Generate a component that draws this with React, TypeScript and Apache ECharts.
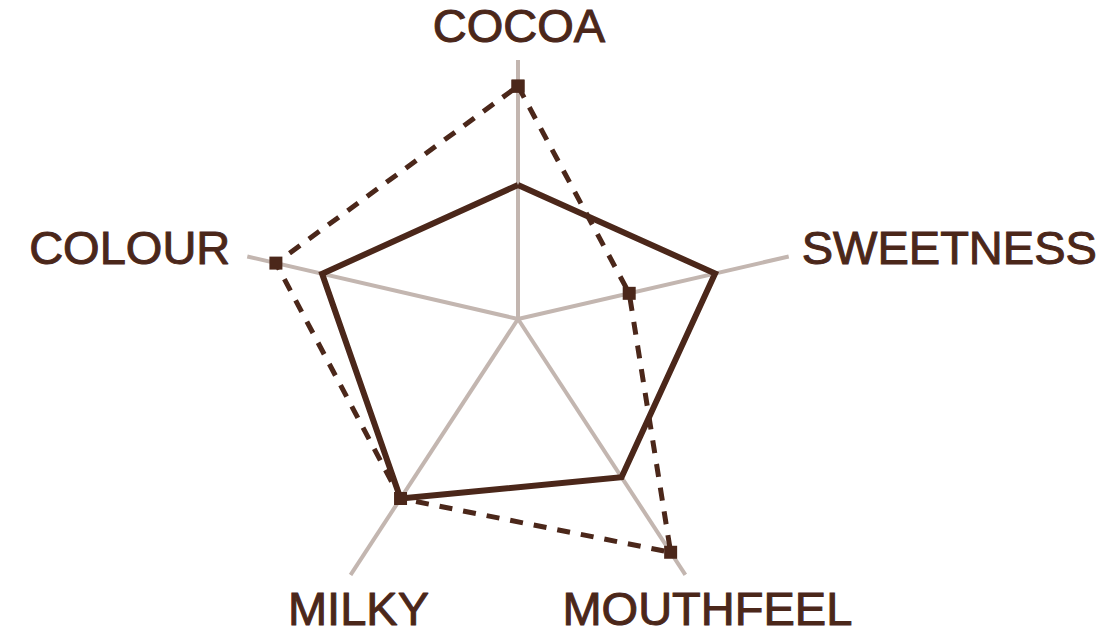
import React, { useEffect, useRef } from "react";
import * as echarts from "echarts";

// Spokes of the chart, clockwise from the top
const categories = ["COCOA", "SWEETNESS", "MOUTHFEEL", "MILKY", "COLOUR"];
// Direction of each spoke (degrees, counter-clockwise from east)
const spokeAngles = [90, 13, 303.2, 236.8, 167];
// Length of each spoke, in the common value scale (0–10)
const spokeLengths = [8.46, 9.08, 9.99, 10, 9.08];
// Solid profile
const solidValues = [4.38, 6.61, 6.18, 7.01, 6.57];
// Dashed profile (square markers)
const dashedValues = [7.61, 3.73, 9.11, 7.01, 8.12];

const BROWN = "#4b271a";
const SPOKE = "#c3b6b0";
const FONT = "'Liberation Sans', Arial, Helvetica, sans-serif";

const labelPlacement: { align: string; offset: number[] }[] = [
  { align: "center", offset: [1, -35] },
  { align: "left", offset: [13, -9] },
  { align: "center", offset: [22, 34] },
  { align: "center", offset: [8, 33] },
  { align: "right", offset: [-17, -9] },
];

const closed = (vals: number[]) => {
  const pts = vals.map((v, i) => [v, spokeAngles[i]]);
  pts.push(pts[0]);
  return pts;
};

export default function App() {
  const ref = useRef<HTMLDivElement>(null);

  useEffect(() => {
    if (!ref.current) return;
    const chart = echarts.init(ref.current, undefined, { renderer: "svg" });

    const spokeSeries = categories.map((c, i) => ({
      type: "line",
      name: "spoke-" + c,
      coordinateSystem: "polar",
      data: [
        [0, spokeAngles[i]],
        [spokeLengths[i], spokeAngles[i]],
      ],
      symbol: "none",
      silent: true,
      lineStyle: { color: SPOKE, width: 4, cap: "butt" },
      z: 1,
    }));

    chart.setOption({
      animation: false,
      backgroundColor: "#ffffff",
      polar: { center: [518, 319], radius: 306 },
      angleAxis: {
        type: "value",
        min: 0,
        max: 360,
        startAngle: 0,
        clockwise: false,
        show: false,
      },
      radiusAxis: { type: "value", min: 0, max: 10, show: false },
      series: [
        ...spokeSeries,
        {
          type: "line",
          name: "solid",
          coordinateSystem: "polar",
          data: closed(solidValues),
          symbol: "none",
          silent: true,
          lineStyle: { color: BROWN, width: 6, join: "miter" },
          z: 2,
        },
        {
          type: "line",
          name: "dashed",
          coordinateSystem: "polar",
          data: closed(dashedValues),
          symbol: "rect",
          symbolSize: 13,
          showSymbol: true,
          showAllSymbol: true,
          silent: true,
          itemStyle: { color: BROWN },
          lineStyle: { color: BROWN, width: 5, type: [13, 11] },
          z: 3,
        },
        {
          type: "scatter",
          name: "labels",
          coordinateSystem: "polar",
          symbolSize: 0,
          silent: true,
          itemStyle: { color: BROWN, opacity: 1 },
          data: categories.map((c, i) => ({
            name: c,
            value: [spokeLengths[i], spokeAngles[i]],
            label: {
              align: labelPlacement[i].align,
              offset: labelPlacement[i].offset,
            },
          })),
          label: {
            show: true,
            position: "inside",
            formatter: "{b}",
            color: BROWN,
            opacity: 1,
            fontSize: 47,
            lineHeight: 40,
            fontFamily: FONT,
            verticalAlign: "middle",
            textBorderColor: BROWN,
            textBorderWidth: 1,
          },
          z: 4,
        },
      ],
    });

    return () => chart.dispose();
  }, []);

  return (
    <div
      ref={ref}
      style={{ position: "fixed", left: 0, top: 0, width: 1110, height: 640 }}
    />
  );
}
